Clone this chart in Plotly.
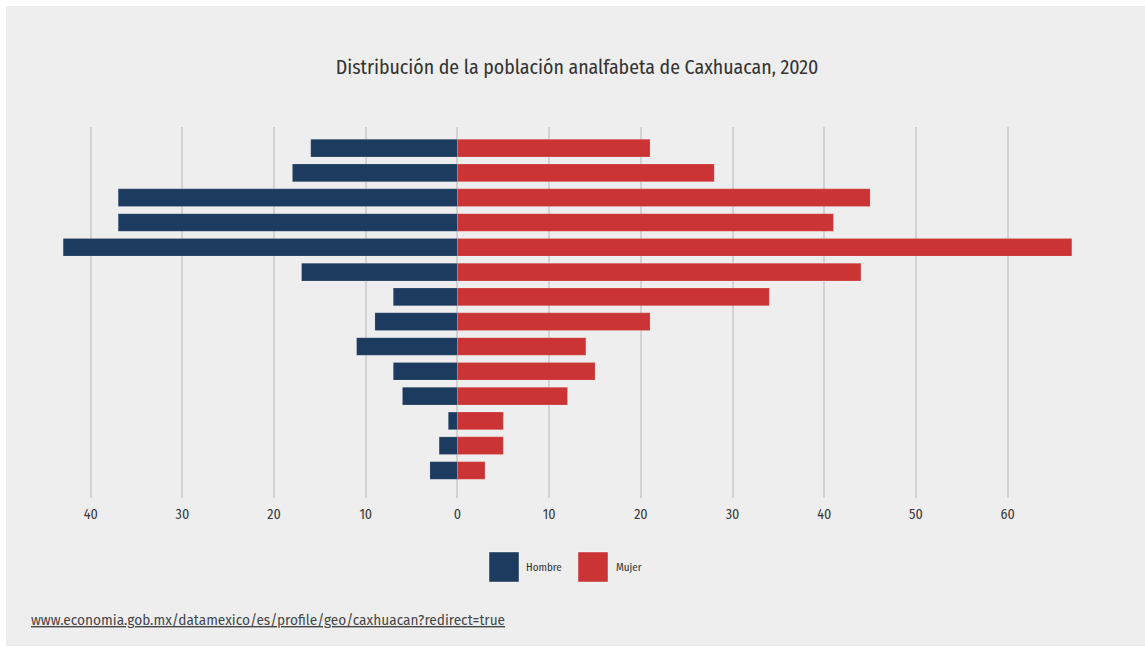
import plotly.graph_objects as go

# Age groups (bottom to top)
categories = ["15 a 19 años", "20 a 24 años", "25 a 29 años", "30 a 34 años",
              "35 a 39 años", "40 a 44 años", "45 a 49 años", "50 a 54 años",
              "55 a 59 años", "60 a 64 años", "65 a 69 años", "70 a 74 años",
              "75 a 79 años", "80 años o más"]
hombre = [3, 2, 1, 6, 7, 11, 9, 7, 17, 43, 37, 37, 18, 16]
mujer = [3, 5, 5, 12, 15, 14, 21, 34, 44, 67, 41, 45, 28, 21]
series_names = ["Hombre", "Mujer"]
colors = ["#1d3b5e", "#cb3434"]
tick_values = [-40, -30, -20, -10, 0, 10, 20, 30, 40, 50, 60]
tick_labels = ["40", "30", "20", "10", "0", "10", "20", "30", "40", "50", "60"]
title_text = "Distribución de la población analfabeta de Caxhuacan, 2020"
source_text = "www.economia.gob.mx/datamexico/es/profile/geo/caxhuacan?redirect=true"

FONT = "Fira Sans Condensed, Roboto Condensed, Liberation Sans Narrow, DejaVu Sans Condensed, Roboto, sans-serif"
FONT_SRC = "Fira Sans, Open Sans, Roboto, sans-serif"

fig = go.Figure()
fig.add_trace(go.Bar(
    y=categories, x=[-v for v in hombre], orientation="h", name=series_names[0],
    marker=dict(color=colors[0], line=dict(color="rgba(255,255,255,0.25)", width=0.6)),
    customdata=hombre, hovertemplate="%{y}: %{customdata}<extra>Hombre</extra>",
))
fig.add_trace(go.Bar(
    y=categories, x=mujer, orientation="h", name=series_names[1],
    marker=dict(color=colors[1], line=dict(color="rgba(255,255,255,0.25)", width=0.6)),
    hovertemplate="%{y}: %{x}<extra>Mujer</extra>",
))

W, H = 1145, 647
L, R, T, B = 54, 64, 127, 149
pw, ph = W - L - R, H - T - B

def px(xp):
    return (xp - L) / pw

def py(yp):
    return (H - B - yp) / ph

shapes = [
    dict(type="rect", xref="paper", yref="paper", layer="below",
         x0=px(6), x1=px(1145), y0=py(646), y1=py(6),
         fillcolor="#eeeeee", line=dict(width=0)),
]
annotations = []
leg_pos = [(489, 524), (578, 614)]
for (sx, tx), name, col in zip(leg_pos, series_names, colors):
    shapes.append(dict(type="rect", xref="paper", yref="paper",
                       x0=px(sx), x1=px(sx + 30), y0=py(582), y1=py(552),
                       fillcolor=col, line=dict(color="rgba(255,255,255,0.4)", width=1)))
    annotations.append(dict(text=name, xref="paper", yref="paper", x=px(tx), y=py(567),
                            xanchor="left", yanchor="middle", showarrow=False,
                            font=dict(size=11, color="#333333", family=FONT)))
annotations.append(dict(text="<u>" + source_text + "</u>", xref="paper", yref="paper",
                        x=px(29), y=py(620), xanchor="left", yanchor="middle",
                        showarrow=False, font=dict(size=13.7, color="#444444", family=FONT_SRC)))

fig.update_layout(
    width=W, height=H,
    margin=dict(l=L, r=R, t=T, b=B, pad=0),
    paper_bgcolor="white", plot_bgcolor="rgba(0,0,0,0)",
    barmode="relative", bargap=0.29,
    showlegend=False,
    title=dict(text=title_text, x=577 / W, xanchor="center", y=1 - 67 / H, yanchor="middle",
               font=dict(size=19.8, color="#333333", family=FONT)),
    font=dict(family=FONT, color="#333333"),
    xaxis=dict(range=[-44, 68], tickvals=tick_values, ticktext=tick_labels,
               showgrid=True, gridcolor="#d2d2d2", gridwidth=1.5, zeroline=False,
               showline=False, ticks="outside", ticklen=3, tickcolor="rgba(0,0,0,0)",
               tickfont=dict(size=14, color="#3a3a3a", family=FONT), fixedrange=True),
    yaxis=dict(range=[-1.11, 13.85], showticklabels=False, showgrid=False,
               zeroline=False, showline=False, ticks="", fixedrange=True),
    shapes=shapes, annotations=annotations,
)

fig.write_html("out.html", config={"displayModeBar": False},
               post_script="document.body.style.margin='0';document.body.style.overflow='hidden';")
